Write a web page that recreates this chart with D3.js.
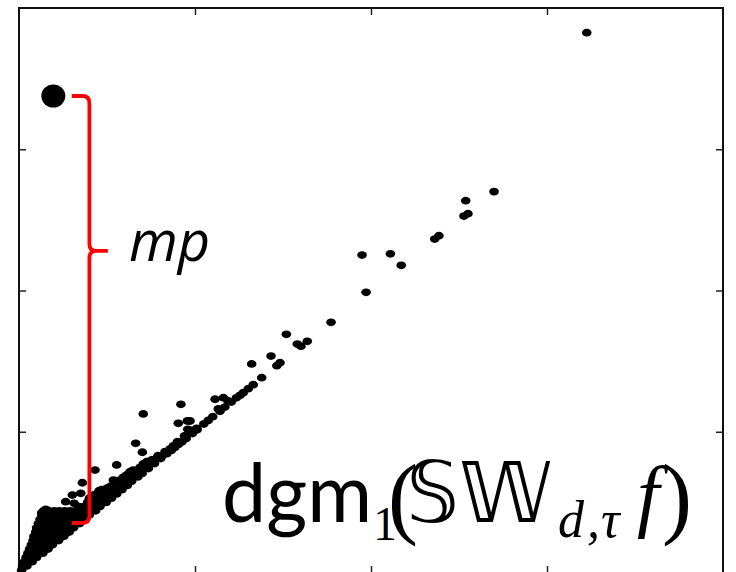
<!DOCTYPE html>
<html lang="en">
<head>
    <meta charset="UTF-8" />
    <title>dgm1 persistence diagram</title>
    <script src="https://d3js.org/d3.v7.min.js"></script>
    <style>
        body { margin: 0; background: #fff; }
    </style>
</head>
<body>
    <div id="container"></div>
    <script>
        // axis range (both birth and death) and inner tick positions
        const axisDomain = [0, 4]
        const tickValues = [1, 2, 3]

        // the point with maximum persistence
        const maxPoint = [0.195, 3.377]

        // [birth, death] of the scattered points
        const spread = [
            [3.226, 3.825], [2.699, 2.700], [2.538, 2.636], [2.528, 2.527], [2.551, 2.544],
            [2.362, 2.364], [2.386, 2.388], [1.949, 2.251], [2.110, 2.260], [2.172, 2.178],
            [1.972, 1.987], [1.773, 1.775], [1.519, 1.690], [1.581, 1.621], [1.602, 1.606],
            [1.638, 1.640], [1.432, 1.536], [1.322, 1.480], [1.483, 1.489], [1.465, 1.468],
            [1.379, 1.383], [1.331, 1.333], [1.303, 1.305], [1.274, 1.276], [1.256, 1.258],
            [1.114, 1.230], [1.161, 1.241], [1.186, 1.220], [1.206, 1.210], [1.132, 1.161],
            [1.142, 1.145], [1.101, 1.107], [0.706, 1.126], [0.920, 1.194], [0.905, 1.060],
            [0.956, 1.076], [0.972, 1.076], [0.959, 1.017], [1.010, 1.024], [1.012, 1.014],
            [0.985, 0.987], [0.950, 0.952], [0.925, 0.928], [0.663, 0.918], [0.701, 0.855],
            [0.877, 0.899], [0.858, 0.878], [0.885, 0.888], [0.811, 0.828], [0.782, 0.812],
            [0.754, 0.800], [0.726, 0.788], [0.706, 0.772], [0.555, 0.765], [0.688, 0.748],
            [0.649, 0.729], [0.631, 0.717], [0.612, 0.694], [0.593, 0.678], [0.574, 0.658],
            [0.536, 0.658], [0.517, 0.611], [0.432, 0.729], [0.360, 0.639], [0.455, 0.583],
            [0.303, 0.552], [0.351, 0.564], [0.265, 0.505], [0.313, 0.493], [0.152, 0.451],
            [0.129, 0.427]
        ]

        // [birth, death] of the dense cloud near the diagonal
        const cluster = [
            [0.015, 0.02],
            [0.02, 0.05], [0.045, 0.05],
            [0.03, 0.08], [0.055, 0.08], [0.075, 0.08],
            [0.04, 0.11], [0.07, 0.11], [0.1, 0.11],
            [0.05, 0.14], [0.08, 0.14], [0.11, 0.14], [0.135, 0.14],
            [0.06, 0.17], [0.09, 0.17], [0.12, 0.17], [0.145, 0.17], [0.165, 0.17],
            [0.07, 0.2], [0.1, 0.2], [0.13, 0.2], [0.16, 0.2], [0.19, 0.2],
            [0.08, 0.23], [0.11, 0.23], [0.14, 0.23], [0.17, 0.23], [0.2, 0.23], [0.225, 0.23],
            [0.085, 0.26], [0.115, 0.26], [0.145, 0.26], [0.175, 0.26], [0.205, 0.26], [0.235, 0.26], [0.255, 0.26],
            [0.095, 0.29], [0.125, 0.29], [0.155, 0.29], [0.185, 0.29], [0.215, 0.29], [0.245, 0.29], [0.27, 0.29], [0.285, 0.29],
            [0.1, 0.32], [0.13, 0.32], [0.16, 0.32], [0.19, 0.32], [0.22, 0.32], [0.25, 0.32], [0.28, 0.32], [0.31, 0.32],
            [0.11, 0.35], [0.14, 0.35], [0.17, 0.35], [0.2, 0.35], [0.23, 0.35], [0.26, 0.35], [0.29, 0.35], [0.32, 0.35], [0.345, 0.35],
            [0.12, 0.38], [0.15, 0.38], [0.18, 0.38], [0.21, 0.38], [0.24, 0.38], [0.27, 0.38], [0.3, 0.38], [0.33, 0.38], [0.36, 0.38], [0.375, 0.38],
            [0.13, 0.41], [0.16, 0.41], [0.19, 0.41], [0.22, 0.41], [0.25, 0.41], [0.28, 0.41], [0.31, 0.41], [0.34, 0.41], [0.37, 0.41], [0.4, 0.41],
            [0.14, 0.44], [0.17, 0.44], [0.2, 0.44], [0.23, 0.44], [0.26, 0.44], [0.29, 0.44], [0.32, 0.44], [0.35, 0.44], [0.38, 0.44], [0.41, 0.44], [0.435, 0.44],
            [0.34, 0.47], [0.37, 0.47], [0.4, 0.47], [0.43, 0.47], [0.46, 0.47],
            [0.39, 0.5], [0.42, 0.5], [0.45, 0.5], [0.48, 0.5], [0.495, 0.5],
            [0.40, 0.53], [0.44, 0.53], [0.47, 0.53], [0.5, 0.53], [0.525, 0.53],
            [0.42, 0.55], [0.44, 0.56], [0.49, 0.56], [0.52, 0.56], [0.555, 0.56],
            [0.47, 0.59], [0.50, 0.60], [0.54, 0.59], [0.57, 0.59], [0.585, 0.59],
            [0.53, 0.62], [0.56, 0.64], [0.59, 0.62], [0.615, 0.62],
            [0.59, 0.66], [0.62, 0.67], [0.60, 0.64], [0.64, 0.65], [0.675, 0.68],
            [0.65, 0.70], [0.68, 0.72], [0.66, 0.70], [0.72, 0.76],
            [0.70, 0.705], [0.735, 0.74], [0.77, 0.775], [0.805, 0.81], [0.84, 0.845],
            [0.79, 0.83], [0.83, 0.86], [0.90, 0.93], [0.94, 0.97], [0.98, 1.01],
            [0.865, 0.868], [0.905, 0.91], [1.05, 1.055], [1.075, 1.08], [1.17, 1.175], [1.235, 1.24]
        ]

        // red brace: x position, lower end, tip height, arm and tip extents (data units)
        const braceX = 0.40
        const braceLow = 0.354
        const braceTip = 2.28
        const braceArm = 0.30
        const braceTipEnd = 0.505

        const width = 736
        const height = 572

        const svg = d3.select("#container")
            .append("svg")
            .attr("width", width)
            .attr("height", height)
            .attr("viewBox", [0, 0, width, height])

        const x = d3.scaleLinear().domain(axisDomain).range([19, 723])
        const y = d3.scaleLinear().domain(axisDomain).range([573, 8])

        // frame
        svg.append("rect")
            .attr("x", x(axisDomain[0]))
            .attr("y", y(axisDomain[1]))
            .attr("width", x(axisDomain[1]) - x(axisDomain[0]))
            .attr("height", y(axisDomain[0]) - y(axisDomain[1]))
            .attr("fill", "none")
            .attr("stroke", "#111")
            .attr("stroke-width", 2)

        // inward ticks on all four sides
        const tickLen = -7
        const axes = [
            { axis: d3.axisBottom(x), t: `translate(0,${y(axisDomain[0])})` },
            { axis: d3.axisTop(x), t: `translate(0,${y(axisDomain[1])})` },
            { axis: d3.axisLeft(y), t: `translate(${x(axisDomain[0])},0)` },
            { axis: d3.axisRight(y), t: `translate(${x(axisDomain[1])},0)` }
        ]
        axes.forEach(a => {
            svg.append("g")
                .attr("transform", a.t)
                .call(a.axis.tickValues(tickValues).tickSize(tickLen).tickFormat(""))
                .call(g => g.select(".domain").remove())
                .call(g => g.selectAll(".tick line").attr("stroke", "#222").attr("stroke-width", 1.5))
        })

        // points
        const dots = svg.append("g").attr("fill", "#000")
        dots.selectAll("ellipse")
            .data(cluster.concat(spread))
            .join("ellipse")
            .attr("cx", d => x(d[0]))
            .attr("cy", d => y(d[1]))
            .attr("rx", 4.8)
            .attr("ry", 3.9)

        svg.append("ellipse")
            .attr("cx", x(maxPoint[0]))
            .attr("cy", y(maxPoint[1]))
            .attr("rx", 12)
            .attr("ry", 11.5)
            .attr("fill", "#000")

        // brace marking the max persistence
        const bx = x(braceX)
        const bTop = y(maxPoint[1])
        const bBot = y(braceLow)
        const tipY = y(braceTip)
        const armX = x(braceArm)
        const tipX = x(braceTipEnd)
        const r = 7
        const brace = d3.path()
        brace.moveTo(armX, bTop)
        brace.lineTo(bx - r, bTop)
        brace.quadraticCurveTo(bx, bTop, bx, bTop + r)
        brace.lineTo(bx, tipY - r)
        brace.quadraticCurveTo(bx, tipY, bx + r, tipY)
        brace.lineTo(tipX, tipY)
        brace.moveTo(bx + r, tipY)
        brace.quadraticCurveTo(bx, tipY, bx, tipY + r)
        brace.lineTo(bx, bBot - r)
        brace.quadraticCurveTo(bx, bBot, bx - r, bBot)
        brace.lineTo(armX, bBot)

        svg.append("path")
            .attr("d", brace.toString())
            .attr("fill", "none")
            .attr("stroke", "#ff0000")
            .attr("stroke-width", 3.8)

        svg.append("text")
            .attr("x", 129)
            .attr("y", 261)
            .attr("font-family", "'Open Sans', 'Noto Sans', sans-serif")
            .attr("font-style", "italic")
            .attr("font-size", 56)
            .attr("fill", "#000")
            .text("mp")

        // diagram label, one text with positioned pieces
        const sans = "Lato, 'Noto Sans', sans-serif"
        const serif = "'Liberation Serif', 'DejaVu Serif', serif"
        const bb = "'DejaVu Sans', 'DejaVu Serif', sans-serif"
        const pieces = [
            { s: "dgm", x: 222, y: 522, f: sans, size: 82, len: 150 },
            { s: "1", x: 373, y: 540, f: serif, size: 48 },
            { s: "(", x: 388, y: 527, f: serif, size: 90 },
            { s: "𝕊", x: 406, y: 522, f: bb, size: 84 },
            { s: "𝕎", x: 459, y: 522, f: bb, size: 84 },
            { s: "d", x: 558, y: 537, f: serif, size: 52, it: true },
            { s: ",", x: 587, y: 537, f: serif, size: 52, it: true },
            { s: "τ", x: 601, y: 537, f: serif, size: 52, it: true },
            { s: "f", x: 637, y: 522, f: serif, size: 80, it: true },
            { s: ")", x: 662, y: 527, f: serif, size: 90 }
        ]
        const label = svg.append("text").attr("fill", "#000")
        pieces.forEach(p => {
            const t = label.append("tspan")
                .attr("x", p.x)
                .attr("y", p.y)
                .attr("font-family", p.f)
                .attr("font-size", p.size)
                .attr("font-style", p.it ? "italic" : "normal")
                .text(p.s)
            if (p.len) t.attr("textLength", p.len).attr("lengthAdjust", "spacingAndGlyphs")
        })
    </script>
</body>
</html>
